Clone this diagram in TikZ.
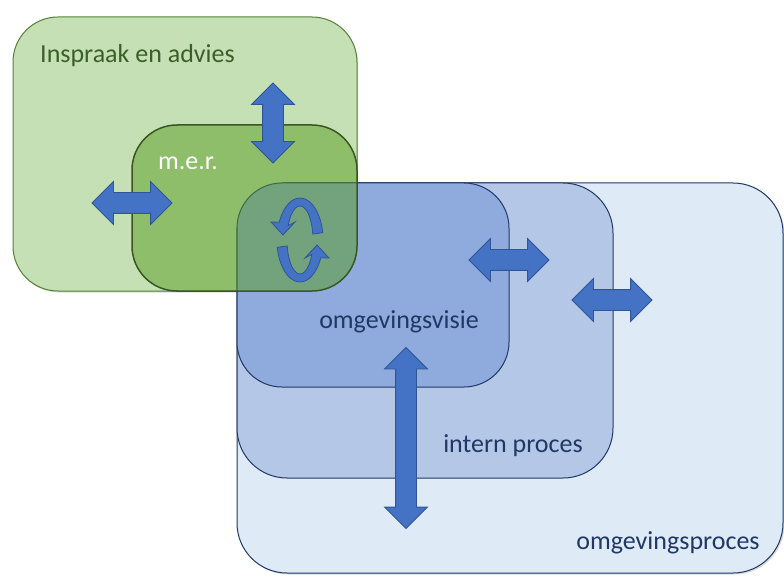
\documentclass[tikz,border=0pt]{standalone}
\usepackage{fontspec}
\setmainfont{Carlito}
\usetikzlibrary{shapes.arrows}
\usetikzlibrary{shadows}

\definecolor{inspraakfill}{HTML}{C5E0B4}
\definecolor{inspraakline}{HTML}{548235}
\definecolor{merfill}{HTML}{599E20}
\definecolor{merline}{HTML}{385723}
\definecolor{procesfill}{HTML}{DEEBF7}
\definecolor{internfill}{HTML}{B4C7E7}
\definecolor{visiefill}{HTML}{8FAADC}
\definecolor{blueline}{HTML}{1F3864}
\definecolor{arrowfill}{HTML}{4472C4}
\definecolor{arrowline}{HTML}{2F5597}
\definecolor{greentext}{HTML}{3A5F28}

\tikzset{
  dblarrow/.style={double arrow, draw=arrowline, fill=arrowfill, line width=0.8pt,
    inner sep=0pt, double arrow head extend=11pt},
  bluelabel/.style={text=blueline, font=\fontsize{26}{30}\selectfont},
}

\begin{document}
\begin{tikzpicture}[x=1pt, y=-1pt]
			\useasboundingbox (0, 0) rectangle (784, 577);
			% groene vlakken
			\draw [fill=inspraakfill, draw=inspraakline, line width=1pt, rounded corners=45pt,
				drop shadow={shadow xshift=1pt, shadow yshift=-1.5pt, opacity=0.3}] (13, 17) rectangle (357, 291);
			% blauwe vlakken
			\draw [fill=procesfill, draw=blueline, line width=1pt, rounded corners=50pt,
				drop shadow={shadow xshift=1.5pt, shadow yshift=-1.5pt, opacity=0.3}] (237, 183) rectangle (783, 573);
			\draw [fill=internfill, draw=blueline, line width=1pt, rounded corners=50pt] (237, 183) rectangle (613, 478);
			\draw [fill=visiefill, draw=blueline, line width=1pt, rounded corners=45pt] (237, 183) rectangle (509, 387);
			\draw [fill=merfill, fill opacity=0.5, draw=merline, line width=1.5pt, rounded corners=45pt] (132, 125) rectangle (357, 291);
			% teksten
			\node at (40, 56) [anchor=west, inner sep=0pt, text=greentext, font=\fontsize{26}{30}\selectfont] (inspraak) {Inspraak en advies};
			\node at (188, 163) [text=white, font=\fontsize{26}{30}\selectfont] (mer) {m.e.r.};
			\node at (399, 322) [bluelabel] (visie) {omgevingsvisie};
			\node at (513, 446) [bluelabel] (intern) {intern proces};
			\node at (668, 543) [bluelabel] (proces) {omgevingsproces};
			% pijlen
			\node at (132, 203) [dblarrow, minimum height=80pt] (merarrow) {\rule{0pt}{20pt}};
			\node at (273, 123) [dblarrow, minimum height=80pt, rotate=90] (inspraakarrow) {\rule{0pt}{20pt}};
			\node at (509, 260) [dblarrow, minimum height=80pt] (visiearrow) {\rule{0pt}{20pt}};
			\node at (612, 300) [dblarrow, minimum height=80pt] (internarrow) {\rule{0pt}{20pt}};
			\node at (406, 438) [dblarrow, minimum height=181pt, rotate=90] (procesarrow) {\rule{0pt}{20pt}};
			% kringloop
			\draw [fill=arrowfill, draw=arrowline, line width=0.8pt]
				(322.7, 232.7) arc [start angle=-10, end angle=-155, x radius=23, y radius=42]
				-- (271, 222) -- (283, 235) -- (295, 222) -- (288.2, 225.6)
				arc [start angle=-155, end angle=-10, x radius=13, y radius=34] -- cycle;
			\draw [fill=arrowfill, draw=arrowline, line width=0.8pt]
				(277.3, 247.3) arc [start angle=170, end angle=25, x radius=23, y radius=42]
				-- (329, 258) -- (317, 245) -- (305, 258) -- (311.8, 254.4)
				arc [start angle=25, end angle=170, x radius=13, y radius=34] -- cycle;
		\end{tikzpicture}
\end{document}
